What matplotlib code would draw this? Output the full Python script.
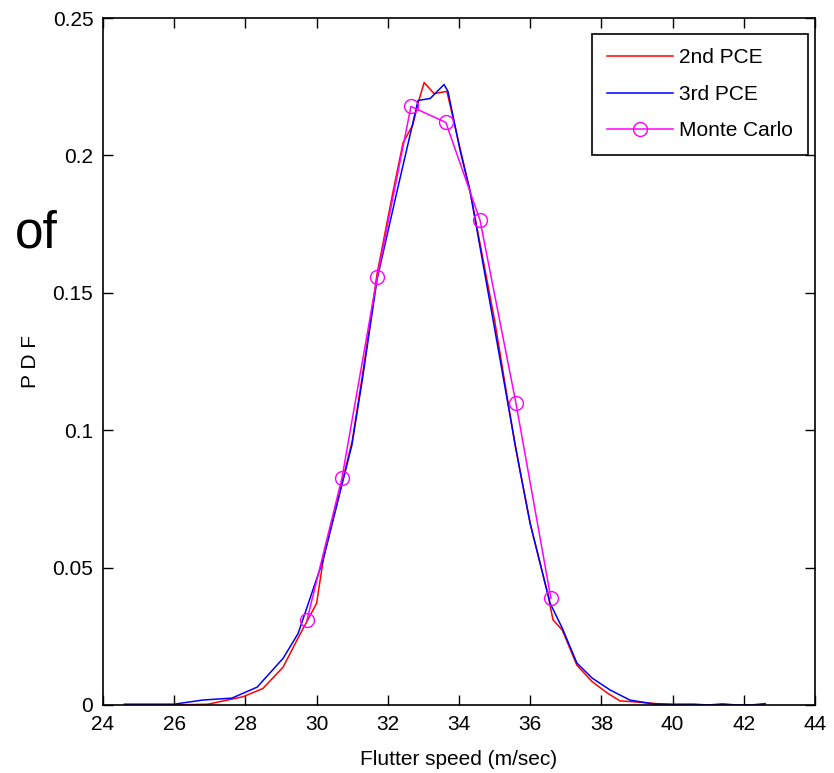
import matplotlib.pyplot as plt

plt.rcParams['font.family'] = ['Liberation Sans', 'DejaVu Sans']

# 2nd order PCE density
pce2_x = [24.6, 26.0, 26.95, 27.93, 28.49, 29.06, 29.48, 30.0, 30.2, 31.0, 31.3, 31.7,
          32.15, 32.43, 32.7, 32.85, 33.02, 33.30, 33.66, 34.31, 35.0, 35.57, 36.0,
          36.5, 36.64, 36.9, 37.31, 37.74, 38.16, 38.52, 39.08, 40.01, 40.6, 41.2, 41.8, 42.6]
pce2_y = [0.0, 0.0, 0.0003, 0.003, 0.006, 0.0138, 0.0244, 0.037, 0.054, 0.096, 0.121, 0.157,
          0.187, 0.2047, 0.211, 0.219, 0.2265, 0.2225, 0.2233, 0.187, 0.140, 0.095, 0.066,
          0.040, 0.031, 0.0273, 0.0145, 0.0085, 0.0044, 0.0015, 0.001, 0.0, -0.0003, 0.0, 0.0, 0.0]

# 3rd order PCE density
pce3_x = [24.6, 26.0, 26.8, 27.62, 28.33, 29.06, 29.48, 30.18, 30.99, 31.28, 31.7, 32.26,
          32.85, 33.19, 33.58, 33.69, 34.03, 34.31, 35.0, 35.57, 35.71, 36.0, 36.56, 36.9,
          37.31, 37.74, 38.24, 38.80, 39.45, 40.0, 40.6, 41.0, 41.4, 41.8, 42.2, 42.6]
pce3_y = [0.0003, 0.0003, 0.0018, 0.0025, 0.0065, 0.017, 0.026, 0.0527, 0.0945, 0.118, 0.155, 0.187,
          0.220, 0.2207, 0.2258, 0.2233, 0.2018, 0.187, 0.137, 0.0953, 0.0855, 0.066, 0.037, 0.028,
          0.0153, 0.0098, 0.0055, 0.0018, 0.0004, 0.0003, 0.0003, 0.0, 0.0004, 0.0, 0.0, 0.0005]

# Monte Carlo histogram points
mc_x = [29.73, 30.71, 31.70, 32.65, 33.63, 34.59, 35.60, 36.58]
mc_y = [0.0309, 0.0825, 0.1556, 0.2178, 0.2120, 0.1764, 0.1098, 0.0389]

xticks = [24, 26, 28, 30, 32, 34, 36, 38, 40, 42, 44]
yticks = [0, 0.05, 0.1, 0.15, 0.2, 0.25]
ytick_labels = ['0', '0.05', '0.1', '0.15', '0.2', '0.25']

fig = plt.figure(figsize=(8.34, 7.73), dpi=100)
ax = fig.add_axes([103 / 834, 68 / 773, 712 / 834, 687 / 773])

ax.plot(pce2_x, pce2_y, color='#ff0000', linewidth=1.1, label='2nd PCE')
ax.plot(pce3_x, pce3_y, color='#0000ff', linewidth=1.1, label='3rd PCE')
ax.plot(mc_x, mc_y, color='#ff00ff', linewidth=1.1, marker='o', markersize=10,
        markerfacecolor='none', markeredgecolor='#ff00ff', label='Monte Carlo')

ax.set_xlim(24, 44)
ax.set_ylim(0, 0.25)
ax.set_xticks(xticks)
ax.set_xticklabels([str(t) for t in xticks])
ax.set_yticks(yticks)
ax.set_yticklabels(ytick_labels)
ax.tick_params(direction='in', length=7, width=1, top=True, right=True, labelsize=15, pad=7)
for s in ax.spines.values():
    s.set_linewidth(1.2)

ax.set_xlabel('Flutter speed (m/sec)', fontsize=15, labelpad=12)
ax.set_ylabel('P D F', fontsize=15, labelpad=9)

leg = ax.legend(loc='upper right', fontsize=15, frameon=True, fancybox=False,
                edgecolor='black', framealpha=1, handlelength=3.2, handletextpad=0.3,
                borderpad=0.7, labelspacing=0.84, borderaxespad=0,
                bbox_to_anchor=(0.990, 0.977))
leg.get_frame().set_linewidth(1.2)

fig.text(15 / 834, 1 - 248 / 773, 'of', fontsize=37, ha='left', va='baseline')

fig.savefig('out.png', dpi=100)
